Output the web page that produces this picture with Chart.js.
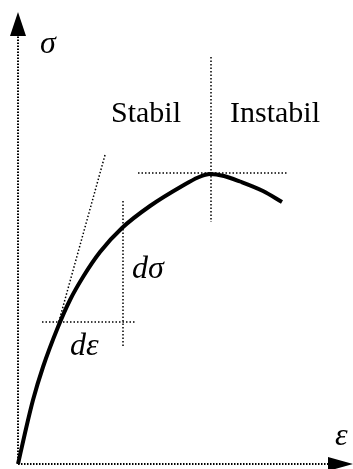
<!DOCTYPE html>
<html>
<head>
<meta charset="utf-8">
<script src="https://cdn.jsdelivr.net/npm/chart.js@4"></script>
<style>
  html, body { margin: 0; padding: 0; background: #fff; }
  #wrap { width: 353px; height: 469px; }
</style>
</head>
<body>
<div id="wrap"><canvas id="chart"></canvas></div>
<script>
// stress-strain curve (strain, stress) in arbitrary units
const strain = [0, 0.7, 1.5, 2.5, 4.0, 5.2, 6.5, 8.2, 10.4, 13.2, 16.5, 18.0, 19.2, 20.6, 22.2, 24.5, 26.4]
const stress = [0, 3.1, 6.4, 9.7, 13.7, 16.4, 18.7, 21.2, 23.6, 25.8, 27.85, 28.65, 29.0, 28.8, 28.25, 27.3, 26.2]

// guide lines: [x1, y1, x2, y2]
const tangent   = [8.7, 30.9, 3.8, 13.2]
const dEpsLine  = [2.4, 14.2, 11.8, 14.2]
const dSigLine  = [10.5, 26.3, 10.5, 11.8]
const peakHoriz = [12.0, 29.1, 27.0, 29.1]
const peakVert  = [19.3, 40.7, 19.3, 24.2]

// axes with arrow tips
const axisY = [0, 0, 0, 42.8]
const axisX = [0, 0, 31.0, 0]
const arrowY = { tip: 45.2, halfWidth: 0.8 }
const arrowX = { tip: 33.5, halfWidth: 0.7 }

// text labels: [text, x, y, italic]
const labels = [
  ['σ', 2.2, 41.1, true],
  ['ε', 31.7, 1.9, true],
  ['Stabil', 9.3, 34.2, false],
  ['Instabil', 21.2, 34.2, false],
  ['dσ', 11.4, 18.6, true],
  ['dε', 5.2, 10.9, true]
]

function seg(s) {
  return [{ x: s[0], y: s[1] }, { x: s[2], y: s[3] }]
}

function dotted(s, width, dash) {
  return {
    data: seg(s),
    borderColor: '#000',
    borderWidth: width,
    borderDash: dash,
    pointRadius: 0,
    tension: 0
  }
}

const overlay = {
  id: 'overlay',
  afterDatasetsDraw(chart) {
    const ctx = chart.ctx
    const xs = chart.scales.x
    const ys = chart.scales.y
    const px = v => xs.getPixelForValue(v)
    const py = v => ys.getPixelForValue(v)

    ctx.save()
    ctx.fillStyle = '#000'

    // arrow on the stress axis
    ctx.beginPath()
    ctx.moveTo(px(0), py(arrowY.tip))
    ctx.lineTo(px(-arrowY.halfWidth), py(axisY[3]))
    ctx.lineTo(px(arrowY.halfWidth), py(axisY[3]))
    ctx.closePath()
    ctx.fill()

    // arrow on the strain axis
    ctx.beginPath()
    ctx.moveTo(px(arrowX.tip), py(0))
    ctx.lineTo(px(axisX[2]), py(arrowX.halfWidth))
    ctx.lineTo(px(axisX[2]), py(-arrowX.halfWidth))
    ctx.closePath()
    ctx.fill()

    ctx.textBaseline = 'alphabetic'
    ctx.textAlign = 'left'
    labels.forEach(l => {
      ctx.font = l[3]
        ? 'italic 32px "Liberation Serif", "DejaVu Serif", serif'
        : '30px "Liberation Serif", "DejaVu Serif", serif'
      ctx.fillText(l[0], px(l[1]), py(l[2]))
    })
    ctx.restore()
  }
}

new Chart(document.getElementById('chart'), {
  type: 'line',
  data: {
    datasets: [
      dotted(axisY, 2, [1.5, 1.5]),
      dotted(axisX, 2, [1.5, 1.5]),
      dotted(tangent, 1.5, [1.5, 2]),
      dotted(dEpsLine, 1.5, [1.5, 2]),
      dotted(dSigLine, 1.5, [1.5, 2]),
      dotted(peakHoriz, 1.5, [1.5, 2]),
      dotted(peakVert, 1.5, [1.5, 2]),
      {
        data: strain.map((x, i) => ({ x: x, y: stress[i] })),
        borderColor: '#000',
        borderWidth: 4,
        pointRadius: 0,
        cubicInterpolationMode: 'monotone',
        borderCapStyle: 'butt'
      }
    ]
  },
  options: {
    responsive: true,
    maintainAspectRatio: false,
    animation: false,
    layout: { padding: 0 },
    plugins: {
      legend: { display: false },
      tooltip: { enabled: false }
    },
    scales: {
      x: { type: 'linear', min: -1.8, max: 33.5, display: false },
      y: { type: 'linear', min: -0.5, max: 46.4, display: false }
    }
  },
  plugins: [overlay]
})
</script>
</body>
</html>
